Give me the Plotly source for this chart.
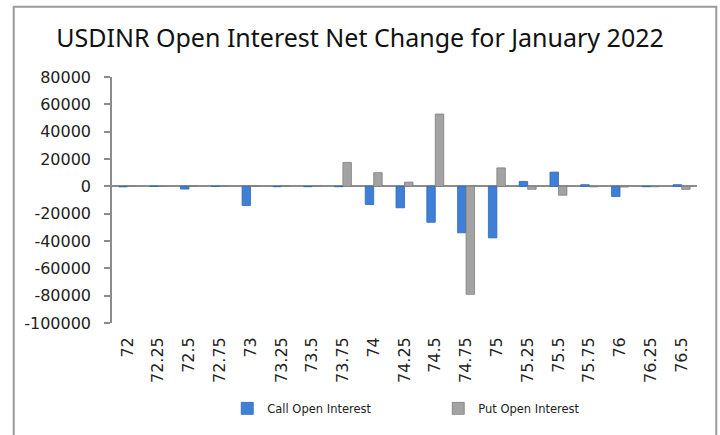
import plotly.graph_objects as go

# Strike prices (categories)
strikes = ["72", "72.25", "72.5", "72.75", "73", "73.25", "73.5", "73.75", "74",
           "74.25", "74.5", "74.75", "75", "75.25", "75.5", "75.75", "76", "76.25", "76.5"]

# Net change in open interest per strike
call_oi = [-400, 0, -2000, 0, -14000, -300, -300, -300, -13300,
           -15700, -26300, -34000, -37700, 3600, 10400, 1200, -7500, -300, 1200]
put_oi = [400, 0, 300, 400, 300, 300, 300, 17500, 10000,
          3100, 52900, -79000, 13500, -2200, -6500, -400, -500, -300, -2200]

y_ticks = list(range(-100000, 80001, 20000))
y_tick_text = [str(v) for v in y_ticks]

fig = go.Figure()
fig.add_trace(go.Bar(
    x=strikes, y=call_oi, name="Call Open Interest",
    marker=dict(color="#3f80d6", line=dict(color="#2f67b3", width=0.8)),
))
fig.add_trace(go.Bar(
    x=strikes, y=put_oi, name="Put Open Interest",
    marker=dict(color="#a3a3a3", line=dict(color="#7d7d7d", width=0.8)),
))

# outer chart frame
fig.add_shape(type="rect", xref="paper", yref="paper",
              x0=-0.168, x1=1.033, y0=-0.48, y1=1.286,
              line=dict(color="#9a9a9a", width=2), fillcolor="rgba(0,0,0,0)",
              layer="below")

fig.update_layout(
    width=720, height=435,
    margin=dict(l=112, r=23, t=77, b=110),
    paper_bgcolor="white", plot_bgcolor="white",
    barmode="group", bargap=0.45, bargroupgap=0,
    title=dict(text="USDINR Open Interest Net Change for January 2022",
               x=0.5, xref="container", xanchor="center",
               y=1 - 38 / 435, yref="container", yanchor="middle",
               font=dict(family="Noto Sans", size=25, color="#111111")),
    font=dict(family="DejaVu Sans", color="#222222"),
    legend=dict(orientation="h", x=0.197, xanchor="left", y=-0.347, yanchor="middle",
                font=dict(family="DejaVu Sans", size=11.5, color="#222222"),
                entrywidth=166, entrywidthmode="pixels",
                bgcolor="rgba(0,0,0,0)"),
    showlegend=True,
)

fig.update_yaxes(
    range=[-100000, 80000], tickvals=y_ticks, ticktext=y_tick_text,
    showgrid=False, showline=True, linecolor="#8c8c8c", linewidth=1.5,
    ticks="outside", ticklen=6, tickcolor="#8c8c8c", tickwidth=1.5,
    ticklabelstandoff=10,
    zeroline=True, zerolinecolor="#8c8c8c", zerolinewidth=1.5,
    tickfont=dict(family="DejaVu Sans", size=16, color="#222222"),
)
fig.update_xaxes(
    type="category", showgrid=False, showline=False, ticks="",
    tickangle=-90, ticklabelstandoff=10,
    tickfont=dict(family="DejaVu Sans", size=16, color="#222222"),
)

fig.write_html("out.html")
